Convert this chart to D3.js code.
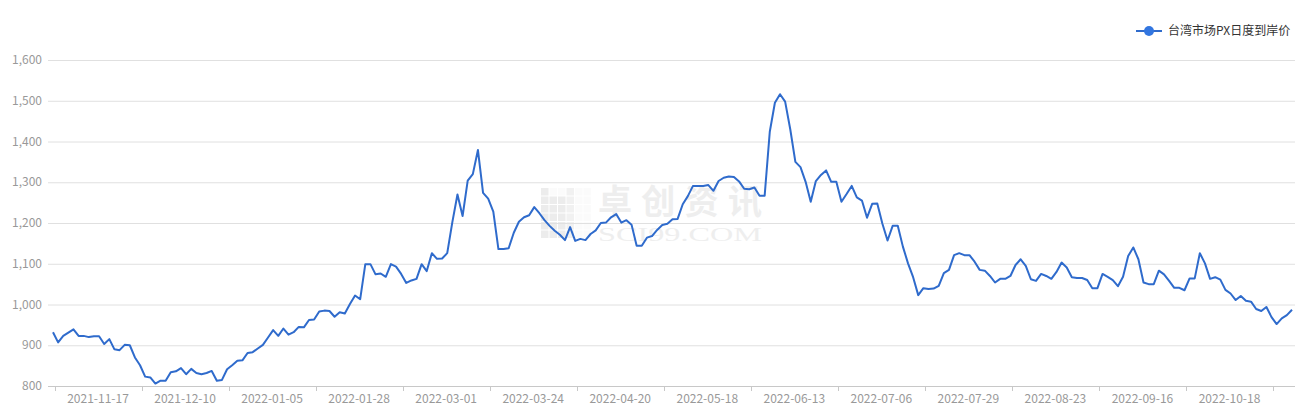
<!DOCTYPE html>
<html><head><meta charset="utf-8">
<script src="https://cdn.jsdelivr.net/npm/d3@7/dist/d3.min.js"></script>
<style>body{margin:0;background:#fff;} svg{display:block;}</style>
</head><body>
<svg id="c" width="1306" height="408"></svg>
<script>
const seriesName = "台湾市场PX日度到岸价";
const values = [
932,907,923,931,939,923,923,920,922,922,903,915,890,888,901,900,870,851,823,821,
806,813,813,834,836,844,829,842,832,829,832,837,813,815,841,851,862,863,881,883,
892,901,919,937,923,941,926,932,945,944,962,963,983,985,984,970,981,978,1001,1022,
1013,1099,1099,1074,1076,1068,1099,1093,1075,1053,1059,1063,1099,1082,1126,1112,1113,1126,1202,1270,
1217,1304,1320,1379,1274,1260,1228,1136,1136,1138,1176,1203,1214,1219,1239,1224,1207,1193,1181,1171,
1158,1190,1156,1161,1158,1173,1182,1200,1201,1214,1222,1201,1207,1196,1144,1144,1164,1168,1183,1195,
1198,1209,1210,1246,1266,1291,1291,1291,1293,1279,1303,1311,1314,1313,1302,1284,1283,1287,1267,1267,
1424,1495,1516,1498,1430,1350,1337,1301,1252,1303,1318,1329,1301,1301,1252,1271,1291,1263,1255,1213,
1247,1248,1198,1157,1193,1193,1142,1101,1067,1023,1040,1038,1039,1046,1077,1085,1121,1126,1121,1121,
1105,1085,1083,1070,1054,1063,1063,1070,1097,1111,1095,1062,1058,1075,1070,1063,1080,1103,1091,1067,
1065,1065,1060,1040,1040,1075,1068,1060,1045,1068,1119,1140,1111,1054,1050,1050,1083,1074,1058,1041,
1041,1035,1064,1064,1126,1101,1063,1067,1061,1036,1027,1011,1021,1009,1007,989,984,994,969,952,
966,974,987
];
const xTickLabels = ["2021-11-17","2021-12-10","2022-01-05","2022-01-28","2022-03-01","2022-03-24","2022-04-20",
  "2022-05-18","2022-06-13","2022-07-06","2022-07-29","2022-08-23","2022-09-16","2022-10-18"];
const yTicks = [800,900,1000,1100,1200,1300,1400,1500,1600];
const labelEvery = 17;

const lineColor = "#2f6bcc";
const font = "'Noto Sans CJK SC','Noto Sans',sans-serif";
const svg = d3.select("#c");
const gridL = 48, gridR = 1295;
const x = d3.scaleLinear().domain([0, values.length - 1]).range([53, 1292]);
const y = d3.scaleLinear().domain([800, 1600]).range([386, 60]);

// watermark
const wm = svg.append("g");
const logoCells = d3.range(0, 36);
wm.selectAll("rect.cell").data(logoCells).enter().append("rect")
  .attr("x", d => 541 + (d % 6) * 8.5).attr("y", d => 188 + Math.floor(d / 6) * 8.5)
  .attr("width", 7.5).attr("height", 7.5)
  .attr("fill", (d) => ((d % 6) < 3 && Math.floor(d / 6) > 0) || (d % 6 === 0) ? "#ececec" : ((d * 7) % 3 === 0 ? "#f1f1f1" : "#fbfbfb"));
wm.append("text").attr("x", 598).attr("y", 214).attr("font-family", font).attr("font-size", 34)
  .attr("font-weight", "bold").attr("fill", "#eeeeee").attr("textLength", 164).text("卓创资讯");
wm.append("text").attr("x", 598).attr("y", 241).attr("font-family", "'Liberation Serif',serif").attr("font-size", 19)
  .attr("fill", "#eeeeee").attr("textLength", 164).attr("lengthAdjust", "spacingAndGlyphs").text("SCI99.COM");

// gridlines
svg.append("g").selectAll("line").data(yTicks.filter(d => d > 800)).enter().append("line")
  .attr("x1", gridL).attr("x2", gridR).attr("y1", d => y(d) + 0.5).attr("y2", d => y(d) + 0.5)
  .attr("stroke", "#e0e0e0").attr("stroke-width", 1);

// y labels
svg.append("g").selectAll("text").data(yTicks).enter().append("text")
  .attr("x", 42).attr("y", d => y(d)).attr("dy", "0.35em").attr("text-anchor", "end")
  .attr("font-family", font).attr("font-size", 12).attr("fill", "#999")
  .text(d => d3.format(",")(d));

// x axis
svg.append("line").attr("x1", gridL).attr("x2", gridR).attr("y1", y(800) + 0.5).attr("y2", y(800) + 0.5)
  .attr("stroke", "#c8c8c8");
const tickIdx = d3.range(0, values.length, labelEvery);
svg.append("g").selectAll("line").data(tickIdx).enter().append("line")
  .attr("x1", d => Math.round(x(d) + 1.5) + 0.5).attr("x2", d => Math.round(x(d) + 1.5) + 0.5)
  .attr("y1", y(800)).attr("y2", y(800) + 5).attr("stroke", "#c8c8c8");
svg.append("g").selectAll("text").data(xTickLabels).enter().append("text")
  .attr("x", (d, i) => x(i * labelEvery + labelEvery / 2) + 1.5).attr("y", 403)
  .attr("text-anchor", "middle").attr("font-family", font).attr("font-size", 12).attr("fill", "#999")
  .text(d => d);

// line
const line = d3.line().x((d, i) => x(i)).y(d => y(d));
svg.append("path").datum(values).attr("d", line).attr("fill", "none")
  .attr("stroke", lineColor).attr("stroke-width", 2).attr("stroke-linejoin", "round");

// legend
const lg = svg.append("g");
lg.append("line").attr("x1", 1136).attr("x2", 1162).attr("y1", 31).attr("y2", 31)
  .attr("stroke", lineColor).attr("stroke-width", 2);
lg.append("circle").attr("cx", 1149).attr("cy", 31).attr("r", 5).attr("fill", "#3276e0");
lg.append("text").attr("x", 1168).attr("y", 31).attr("dy", "0.35em").attr("font-family", font)
  .attr("font-size", 12).attr("fill", "#333").text(seriesName);
</script>
</body></html>
